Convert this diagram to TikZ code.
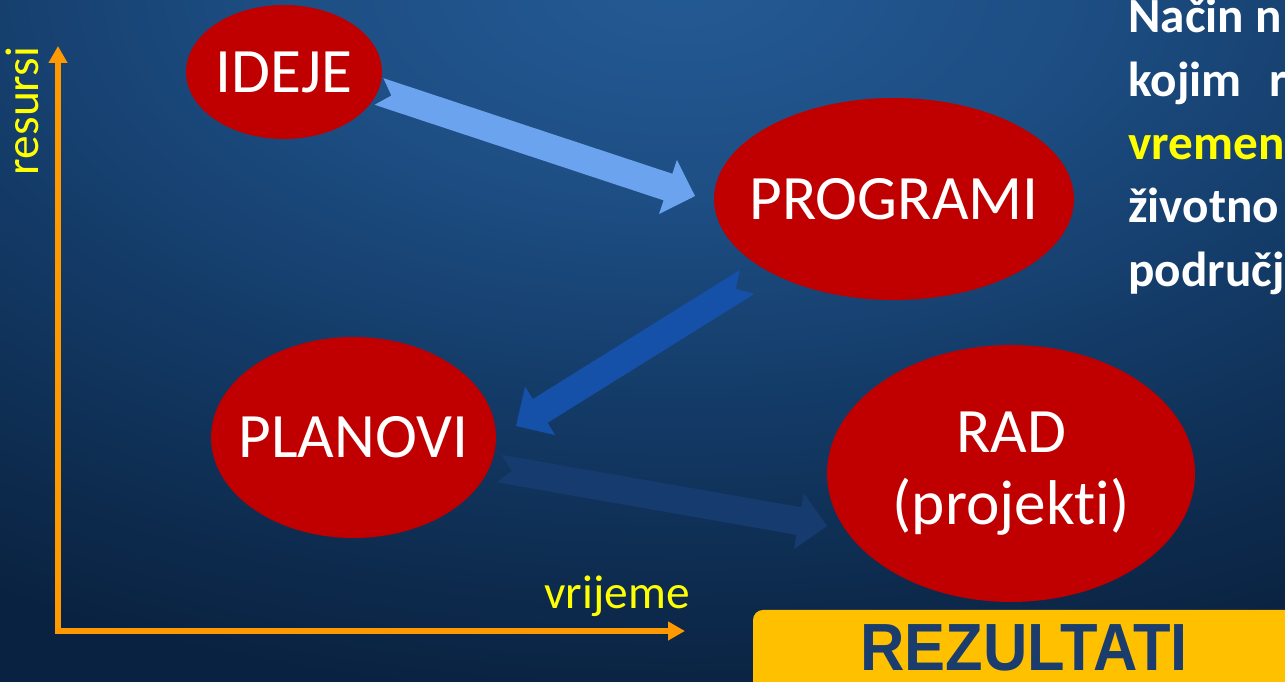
\documentclass[tikz,border=0pt]{standalone}
\usepackage{fontspec}
\setmainfont[Ligatures=NoCommon]{Carlito}
\newfontfamily\rezfont[FakeStretch=0.92]{Liberation Sans}
\usetikzlibrary{calc,shapes.geometric,arrows.meta}

\definecolor{bgtop}{HTML}{245A93}
\definecolor{bgup}{HTML}{1D4E84}
\definecolor{bgmid}{HTML}{133A66}
\definecolor{bglow}{HTML}{0D2B4E}
\definecolor{bgbot}{HTML}{0A2241}
\definecolor{bubred}{HTML}{C00000}
\definecolor{axorange}{HTML}{FF9900}
\definecolor{txtyellow}{HTML}{FFFF00}
\definecolor{arrlight}{HTML}{6CA3EE}
\definecolor{arrmid}{HTML}{1551A9}
\definecolor{arrdark}{HTML}{163B6E}
\definecolor{rezyellow}{HTML}{FFC000}
\definecolor{reztext}{HTML}{1B3D6E}

\pgfdeclareradialshading{bgglow}{\pgfpoint{0bp}{0bp}}{color(0bp)=(bgtop); color(7.5bp)=(bgup); color(15bp)=(bgmid); color(21bp)=(bglow); color(25bp)=(bgbot); color(50bp)=(bgbot)}

% notched block arrow: colour, tail, tip
\newcommand{\fatarrow}[3]{%
  \fill[#1] ($(#2)!0.28cm!90:(#3)$)
    -- ($(#3)!0.57cm!(#2)!0.28cm!90:(#3)$)
    -- ($(#3)!0.57cm!(#2)!0.57cm!90:(#3)$)
    -- (#3)
    -- ($(#3)!0.57cm!(#2)!0.57cm!-90:(#3)$)
    -- ($(#3)!0.57cm!(#2)!0.28cm!-90:(#3)$)
    -- ($(#2)!0.28cm!-90:(#3)$)
    -- ($(#2)!0.26cm!(#3)$)
    -- cycle;}

\tikzset{
  bubble/.style={ellipse, fill=bubred, text=white, inner sep=-0.5cm,
    font=\fontsize{36}{41}\selectfont},
  axis/.style={axorange, line width=3.4pt, line join=miter},
  axlabel/.style={text=txtyellow, inner sep=0pt, font=\fontsize{27}{32}\selectfont},
  sidetext/.style={anchor=base west, inner sep=0pt, text=white,
    font=\bfseries\fontsize{28}{34}\selectfont}
}

\begin{document}
\begin{tikzpicture}[x=0.02cm, y=0.02cm]
\useasboundingbox (0,0) rectangle (1285,682);
\clip (0,0) rectangle (1285,682);

% background
\fill[bgbot] (0,0) rectangle (1285,682);
\shade[shading=bgglow] (-620,-20) rectangle (1980,1420);

% stages
\node[bubble, minimum width=3.92cm, minimum height=2.68cm] (ide) at (284,610) {IDEJE};
\node[bubble, minimum width=7.2cm, minimum height=4.04cm] (prog) at (894,483) {PROGRAMI};
\node[bubble, minimum width=5.7cm, minimum height=4.02cm] (plan) at (353.5,244.5) {PLANOVI};
\node[bubble, minimum width=7.36cm, minimum height=5.14cm, align=center] (rad) at (1011,208.5) {RAD\\(projekti)};

% arrow ends
\coordinate (a1s) at ($(ide.center)+(95,-19.5)$);
\coordinate (a1e) at ($(prog.center)+(-199,3)$);
\coordinate (a2s) at ($(prog.center)+(-147,-83)$);
\coordinate (a2e) at ($(plan.center)+(162.5,11.5)$);
\coordinate (a3s) at ($(plan.center)+(145.5,-31)$);
\coordinate (a3e) at ($(rad.center)+(-184,-52.5)$);

\fatarrow{arrlight}{a1s}{a1e}
\fatarrow{arrmid}{a2s}{a2e}
\fatarrow{arrdark}{a3s}{a3e}

% axes
\coordinate (orig) at (58,51);
\coordinate (ytop) at (58,636);
\coordinate (xend) at (685,51);
\draw[axis, {Triangle[width=0.36cm,length=0.34cm]}-{Triangle[width=0.36cm,length=0.34cm]}]
  (ytop) -- (orig) -- (xend);
\node[axlabel, rotate=90] (res) at (22,571) {resursi};
\node[axlabel, anchor=base] (vri) at (617,73) {vrijeme};

% side text
\node[sidetext] (l1) at (1128,649) {Način n};
\node[sidetext] (l2) at (1128,585) {kojim\hspace{0.55cm}r};
\node[sidetext, text=txtyellow] (l3) at (1128,522) {vremen};
\node[sidetext] (l4) at (1128,459) {životno};
\node[sidetext] (l5) at (1128,395) {područj};

% results bar
\fill[rezyellow, rounded corners=0.2cm] (753,72) rectangle (1330,-30);
\node[font=\rezfont\bfseries\fontsize{38}{45}\selectfont, text=reztext, anchor=base, inner sep=0pt] (rez) at (1024,11) {REZULTATI};

\end{tikzpicture}
\end{document}
